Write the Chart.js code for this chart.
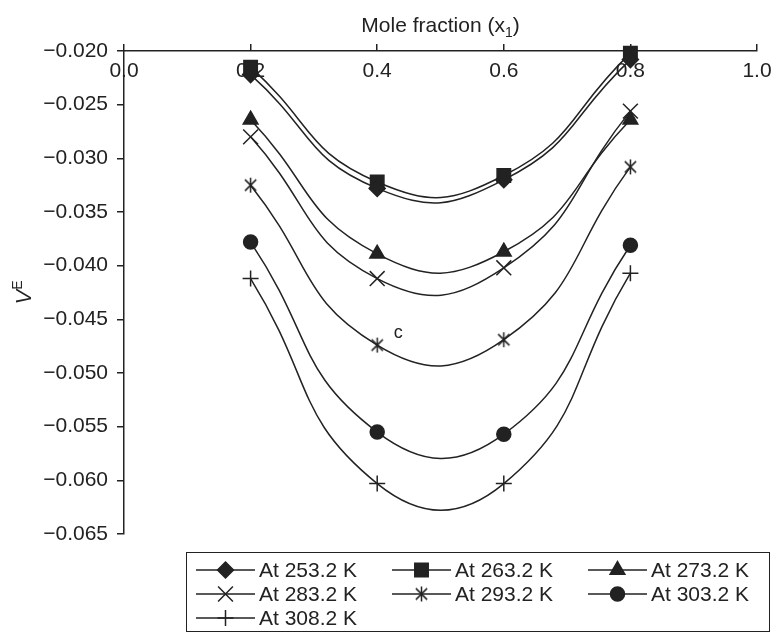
<!DOCTYPE html>
<html>
<head>
<meta charset="utf-8">
<script src="https://cdn.jsdelivr.net/npm/chart.js@4.4.0/dist/chart.umd.min.js"></script>
<style>
  html, body { margin: 0; padding: 0; background: #fff; }
  #wrap { width: 772px; height: 634px; }
</style>
</head>
<body>
<div id="wrap"><canvas id="veChart" width="772" height="634"></canvas></div>
<script>
// --- Data ---
const moleFractions = [0.2, 0.4, 0.6, 0.8];
const xTickValues = [0.0, 0.2, 0.4, 0.6, 0.8, 1.0];
const yTickValues = [-0.065, -0.060, -0.055, -0.050, -0.045, -0.040, -0.035, -0.030, -0.025, -0.020];
const seriesLabels = ['At 253.2 K', 'At 263.2 K', 'At 273.2 K', 'At 283.2 K', 'At 293.2 K', 'At 303.2 K', 'At 308.2 K'];
const ve253 = [-0.0222, -0.0328, -0.0320, -0.0208];
const ve263 = [-0.0215, -0.0322, -0.0316, -0.0202];
const ve273 = [-0.0264, -0.0389, -0.0387, -0.0264];
const ve283 = [-0.0280, -0.0412, -0.0402, -0.0256];
const ve293 = [-0.0325, -0.0474, -0.0469, -0.0308];
const ve303 = [-0.0378, -0.0555, -0.0557, -0.0381];
const ve308 = [-0.0412, -0.0603, -0.0603, -0.0407];

const ink = '#222';
const fontFamily = '"Liberation Sans", Arial, sans-serif';

// asterisk marker (X with a vertical bar), Chart.js has no 6-arm star
function asteriskMarker(size) {
    const c = document.createElement('canvas');
    c.width = c.height = size;
    const g = c.getContext('2d');
    g.strokeStyle = ink;
    g.lineWidth = 1.5;
    const m = size / 2, r = size / 2 - 1, d = r * 0.75;
    g.beginPath();
    g.moveTo(m, m - r); g.lineTo(m, m + r);
    g.moveTo(m - d, m - d); g.lineTo(m + d, m + d);
    g.moveTo(m + d, m - d); g.lineTo(m - d, m + d);
    g.stroke();
    return c;
}

const markers = [
    { style: 'rectRot', radius: 8 },
    { style: 'rect', radius: 9.5 },
    { style: 'triangle', radius: 8.5 },
    { style: 'crossRot', radius: 10.5 },
    { style: asteriskMarker(17), radius: 8 },
    { style: 'circle', radius: 7 },
    { style: 'cross', radius: 8 }
];

const allSeries = [ve253, ve263, ve273, ve283, ve293, ve303, ve308];

const datasets = allSeries.map((vals, i) => ({
    label: seriesLabels[i],
    data: vals.map((v, j) => ({ x: moleFractions[j], y: v })),
    borderColor: ink,
    backgroundColor: ink,
    borderWidth: 1.5,
    pointStyle: markers[i].style,
    pointRadius: markers[i].radius,
    pointBackgroundColor: ink,
    pointBorderColor: ink,
    pointBorderWidth: 1.5,
    tension: 0.5,
    clip: 20
}));

// --- Titles, legend box and the "c" label ---
const extras = {
    id: 'extras',
    afterDraw(chart) {
        const { ctx, chartArea, scales } = chart;
        ctx.save();
        ctx.fillStyle = ink;
        ctx.strokeStyle = ink;

        // x title: Mole fraction (x1) with subscript
        const big = '21px ' + fontFamily, small = '14px ' + fontFamily;
        ctx.font = big;
        const p1 = 'Mole fraction (x', p3 = ')';
        const w1 = ctx.measureText(p1).width, w3 = ctx.measureText(p3).width;
        ctx.font = small;
        const w2 = ctx.measureText('1').width;
        const cx = (chartArea.left + chartArea.right) / 2;
        let tx = cx - (w1 + w2 + w3) / 2;
        const ty = 32;
        ctx.textBaseline = 'alphabetic';
        ctx.textAlign = 'left';
        ctx.font = big; ctx.fillText(p1, tx, ty);
        ctx.font = small; ctx.fillText('1', tx + w1, ty + 5);
        ctx.font = big; ctx.fillText(p3, tx + w1 + w2, ty);

        // y title: V^E rotated
        ctx.save();
        ctx.translate(31, (chartArea.top + chartArea.bottom) / 2);
        ctx.rotate(-Math.PI / 2);
        const vf = 'italic 22px ' + fontFamily, ef = '14px ' + fontFamily;
        ctx.font = vf; const vw = ctx.measureText('V').width;
        ctx.font = ef; const ew = ctx.measureText('E').width;
        ctx.font = vf; ctx.fillText('V', -(vw + ew) / 2, 0);
        ctx.font = ef; ctx.fillText('E', -(vw + ew) / 2 + vw, -9);
        ctx.restore();

        // "c" label next to the 293.2 K point at x = 0.4
        ctx.font = '18px ' + fontFamily;
        ctx.textAlign = 'center';
        ctx.textBaseline = 'middle';
        ctx.fillText('c', scales.x.getPixelForValue(moleFractions[1]) + 21,
            scales.y.getPixelForValue(ve293[1]) - 12);

        // legend box
        ctx.lineWidth = 1;
        ctx.strokeRect(186.5, 552.5, 583, 79);
        const colX = [196, 392, 588];
        const rowY = [570, 594, 618];
        ctx.font = '21px ' + fontFamily;
        ctx.textAlign = 'left';
        chart.data.datasets.forEach((ds, i) => {
            const x0 = colX[i % 3], y0 = rowY[Math.floor(i / 3)];
            ctx.lineWidth = 1.5;
            ctx.beginPath();
            ctx.moveTo(x0, y0);
            ctx.lineTo(x0 + 59, y0);
            ctx.stroke();
            Chart.helpers.drawPoint(ctx, {
                pointStyle: ds.pointStyle,
                radius: ds.pointRadius,
                rotation: 0,
                borderWidth: ds.pointBorderWidth
            }, x0 + 29.5, y0);
            ctx.fillText(ds.label, x0 + 63, y0 + 1);
        });
        ctx.restore();
    }
};

new Chart(document.getElementById('veChart').getContext('2d'), {
    type: 'line',
    data: { datasets: datasets },
    options: {
        responsive: false,
        animation: false,
        devicePixelRatio: 1,
        layout: { padding: { left: 0, top: 0, right: 15, bottom: 100 } },
        plugins: {
            legend: { display: false },
            tooltip: { enabled: false }
        },
        scales: {
            x: {
                type: 'linear',
                position: 'top',
                min: 0,
                max: 1,
                afterBuildTicks: axis => { axis.ticks = xTickValues.map(v => ({ value: v })); },
                afterFit: axis => { axis.height = 51; axis.paddingLeft = 0; axis.paddingRight = 0; },
                ticks: {
                    mirror: true,
                    padding: 8,
                    color: ink,
                    font: { family: fontFamily, size: 21 },
                    callback: v => v.toFixed(1)
                },
                grid: { drawOnChartArea: false, drawTicks: true, tickLength: 7, color: ink, lineWidth: 1.5 },
                border: { display: true, color: ink, width: 1.5 }
            },
            y: {
                type: 'linear',
                position: 'left',
                min: -0.065,
                max: -0.020,
                afterBuildTicks: axis => { axis.ticks = yTickValues.map(v => ({ value: v })); },
                afterFit: axis => { axis.width = 124; },
                ticks: {
                    padding: 9,
                    color: ink,
                    font: { family: fontFamily, size: 21 },
                    callback: v => v.toFixed(3).replace('-', '\u2212')
                },
                grid: { drawOnChartArea: false, drawTicks: true, tickLength: 7, color: ink, lineWidth: 1.5 },
                border: { display: true, color: ink, width: 1.5 }
            }
        }
    },
    plugins: [extras]
});
</script>
</body>
</html>
